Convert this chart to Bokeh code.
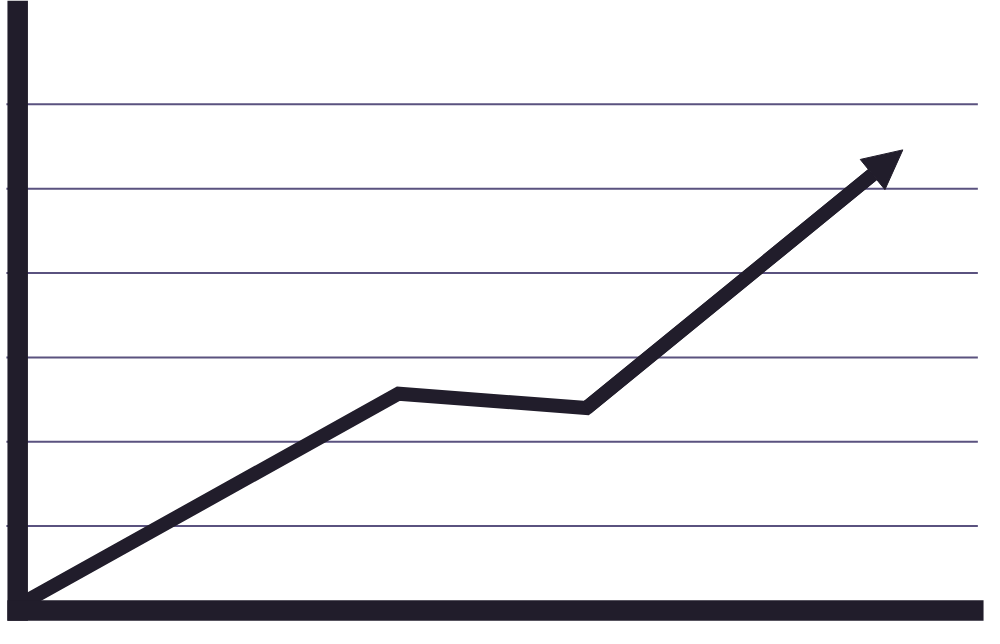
from bokeh.plotting import figure
from bokeh.models import Range1d, Arrow, NormalHead
from bokeh.embed import file_html
from bokeh.resources import INLINE

# Data
x_vals = [-0.1, 3.9, 5.88, 9.21]
y_vals = [0.06, 2.57, 2.40, 5.46]
grid_levels = [1, 2, 3, 4, 5, 6]
grid_x_start = -0.228
grid_x_end = 10.0

DARK = "#211d2b"
GRID = "#5a527f"

X_MIN, X_MAX = -0.29, 10.07
Y_MIN, Y_MAX = -0.214, 7.231

p = figure(width=984, height=628, output_backend="svg", toolbar_location=None,
           x_axis_location=None, y_axis_location=None,
           x_range=Range1d(X_MIN, X_MAX), y_range=Range1d(Y_MIN, Y_MAX),
           min_border=0, outline_line_color=None)
p.background_fill_color = "white"
p.border_fill_color = "white"
p.xgrid.visible = False
p.ygrid.visible = False

# Horizontal guide lines
p.segment(x0=[grid_x_start] * len(grid_levels), y0=grid_levels,
          x1=[grid_x_end] * len(grid_levels), y1=grid_levels,
          line_color=GRID, line_width=2)

# Trend line: body continues to the base of the arrow head
frac = 0.905
x_base = x_vals[2] + frac * (x_vals[3] - x_vals[2])
y_base = y_vals[2] + frac * (y_vals[3] - y_vals[2])
p.line(x_vals[:3] + [x_base], y_vals[:3] + [y_base],
       line_color=DARK, line_width=14, line_join="miter")

# Arrow head on the last segment
p.add_layout(Arrow(end=NormalHead(size=39, fill_color=DARK, line_color=DARK, line_width=1),
                   x_start=x_vals[2], y_start=y_vals[2],
                   x_end=x_vals[3], y_end=y_vals[3],
                   line_color=DARK, line_width=14))

# Thick axis bars
axis_x = -0.109
p.segment(x0=[axis_x], y0=[-0.122], x1=[axis_x], y1=[Y_MAX],
          line_color=DARK, line_width=20.5, line_cap="butt")
p.segment(x0=[-0.218], y0=[0.0], x1=[10.06], y1=[0.0],
          line_color=DARK, line_width=20.5, line_cap="butt")

open("out.html", "w").write(file_html(p, INLINE))
